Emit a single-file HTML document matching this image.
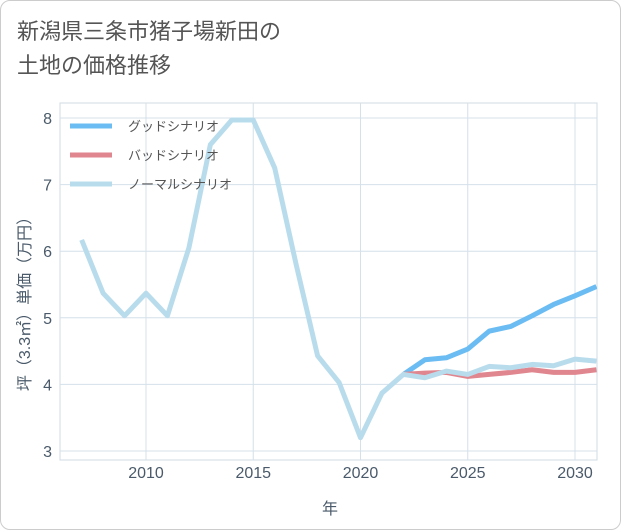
<!DOCTYPE html>
<html><head><meta charset="utf-8"><style>
body{margin:0;background:#fff;font-family:"Liberation Sans","Noto Sans CJK JP",sans-serif;}
#wrap{position:relative;width:619px;height:528px;border:1px solid #ccc;border-radius:10px;overflow:hidden;}
#title{position:absolute;left:16px;top:14px;font-size:22px;line-height:34px;color:#555;}
</style></head><body>
<div id="wrap">
<div id="title">新潟県三条市猪子場新田の<br>土地の価格推移</div>
<svg id="chart" width="621" height="530" style="position:absolute;left:-1px;top:-1px"></svg>
</div>
<script>
const years=[2007,2008,2009,2010,2011,2012,2013,2014,2015,2016,2017,2018,2019,2020,2021,2022,2023,2024,2025,2026,2027,2028,2029,2030,2031];
const normal=[6.17,5.37,5.03,5.37,5.03,6.05,7.6,7.97,7.97,7.25,5.8,4.43,4.03,3.2,3.87,4.15,4.1,4.2,4.15,4.27,4.25,4.3,4.28,4.38,4.35];
const fyears=[2022,2023,2024,2025,2026,2027,2028,2029,2030,2031];
const good=[4.15,4.37,4.4,4.53,4.8,4.87,5.03,5.2,5.33,5.47];
const bad=[4.15,4.17,4.18,4.12,4.15,4.18,4.22,4.18,4.18,4.22];
const xTicks=[2010,2015,2020,2025,2030];
const yTicks=[3,4,5,6,7,8];
const NS="http://www.w3.org/2000/svg";
const svg=document.getElementById('chart');
const L=60,R=597,T=103,B=460;
const x=v=>146+(v-2010)*(575-146)/20;
const y=v=>451-(v-3)*(451-118)/5;
function mk(tag,attrs){const e=document.createElementNS(NS,tag);for(const k in attrs)e.setAttribute(k,attrs[k]);svg.appendChild(e);return e;}
const frame=mk('rect',{x:L,y:T,width:R-L,height:B-T,fill:'none',stroke:'#d0dbe5'});


xTicks.forEach(t=>{
 const g=mk('line',{x1:x(t),x2:x(t),y1:T,y2:B,stroke:'#d5e0ea'});
 
 
 const tx=mk('text',{x:x(t),y:478,'text-anchor':'middle','font-size':16,fill:'#4a5a6a'});tx.textContent=t;
 
 
});
yTicks.forEach(t=>{
 const g=mk('line',{x1:L,x2:R,y1:y(t),y2:y(t),stroke:'#d5e0ea'});
 
 
 const tx=mk('text',{x:52,y:y(t)+6,'text-anchor':'end','font-size':16,fill:'#4a5a6a'});tx.textContent=t;
 
 
});
const xt=mk('text',{x:330,y:514,'text-anchor':'middle','font-size':16,fill:'#4a5a6a'});xt.textContent='年';


const yt=mk('text',{x:30,y:300,'text-anchor':'middle','font-size':16,fill:'#4a5a6a',transform:'rotate(-90 30 300)'});yt.textContent='坪（3.3㎡）単価（万円）';


const clip=mk('clipPath',{id:'c'});const cr=document.createElementNS(NS,'rect');cr.setAttribute('x',L);cr.setAttribute('y',T);cr.setAttribute('width',R-L);cr.setAttribute('height',B-T);clip.appendChild(cr);
function line(xs,vs,color,name){
 const p=mk('polyline',{points:xs.map((v,i)=>x(v)+','+y(vs[i])).join(' '),fill:'none',stroke:color,'stroke-width':5,'stroke-linejoin':'round','clip-path':'url(#c)'});
 
 
}
line(fyears,good,'#6bbcf2','good-scenario-line');
line(fyears,bad,'#e0868f','bad-scenario-line');
line(years,normal,'#b9dcec','normal-scenario-line');
const leg=[['グッドシナリオ','#6bbcf2'],['バッドシナリオ','#e0868f'],['ノーマルシナリオ','#b9dcec']];
leg.forEach((l,i)=>{
 const yy=126+i*29;
 const s=mk('line',{x1:70,x2:112,y1:yy,y2:yy,stroke:l[1],'stroke-width':5});
 
 
 const t=mk('text',{x:128,y:yy+5,'font-size':13,fill:'#555'});t.textContent=l[0];
 
 
});
</script>
</body></html>
